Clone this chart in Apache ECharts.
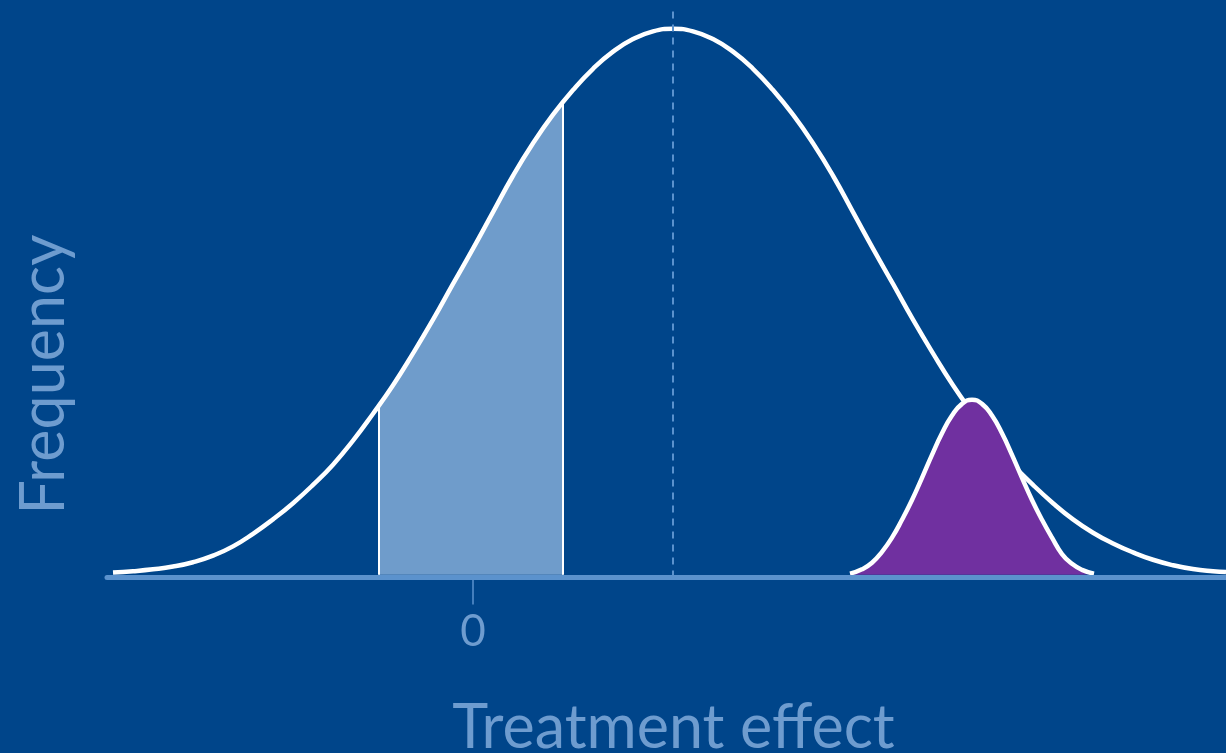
<!DOCTYPE html>
<html>
<head>
<meta charset="utf-8">
<script src="https://cdn.jsdelivr.net/npm/echarts@6/dist/echarts.min.js"></script>
<style>
  html, body { margin: 0; padding: 0; background: #00458a; overflow: hidden; }
  #chart { width: 1226px; height: 753px; }
</style>
</head>
<body>
<div id="chart"></div>
<script>
// Large distribution (treatment effect, frequency relative to its peak)
const bigX = [-3.6,-3.4,-3.2,-3.0,-2.8,-2.6,-2.4,-2.2,-2.0,-1.8,-1.6,-1.4,-1.2,-1.0,-0.8,-0.6,-0.4,-0.2,0.0,0.2,0.4,0.6,0.8,1.0,1.2,1.4,1.6,1.8,2.0,2.2,2.4,2.6,2.8,3.0,3.2,3.4,3.6,3.8,4.0,4.2,4.4,4.6,4.8,5.0,5.2,5.4,5.6,5.8,6.0,6.2,6.4,6.6,6.8,7.0,7.2,7.4,7.53];
const bigY = [0.004,0.0065,0.010,0.015,0.023,0.035,0.052,0.075,0.1015,0.1311,0.1646,0.2017,0.2457,0.2950,0.3472,0.4055,0.4671,0.5326,0.5973,0.6642,0.7308,0.7902,0.8426,0.8878,0.9267,0.9581,0.9811,0.9953,1.0,0.9953,0.9811,0.9581,0.9267,0.8878,0.8426,0.7902,0.7308,0.6642,0.5973,0.5326,0.4671,0.4055,0.3472,0.2950,0.2457,0.2017,0.1646,0.1311,0.1015,0.0770,0.0573,0.0410,0.0275,0.0175,0.0105,0.0065,0.005];

// Shaded interval under the large curve
const shadeX = [-0.94,-0.94,-0.8,-0.6,-0.4,-0.2,0.0,0.2,0.4,0.6,0.8,0.9,0.9];
const shadeY = [0,0.3107,0.3472,0.4055,0.4671,0.5326,0.5973,0.6642,0.7308,0.7902,0.8426,0.865,0];

// Small (purple) distribution
const smallX = [3.77,3.89,3.99,4.09,4.19,4.29,4.39,4.49,4.59,4.69,4.79,4.89,4.99,5.09,5.19,5.29,5.39,5.49,5.59,5.69,5.79,5.89,5.99,6.09,6.21];
const smallY = [0.002,0.010,0.022,0.042,0.068,0.1007,0.1369,0.1775,0.2196,0.2591,0.2916,0.3130,0.3205,0.3130,0.2916,0.2591,0.2196,0.1775,0.1369,0.1007,0.068,0.038,0.020,0.009,0.002];

const meanLine = 2.0;
const tickValues = [0];
const xAxisName = 'Treatment effect';
const yAxisName = 'Frequency';

const zip = (xs, ys) => xs.map((x, i) => [x, ys[i]]);

const chart = echarts.init(document.getElementById('chart'), null, { renderer: 'canvas' });
const textColor = '#6e9ccf';
const axisColor = '#5b92cd';
const FONT = 'Lato, "Open Sans", sans-serif';

chart.setOption({
  backgroundColor: '#00458a',
  animation: false,
  grid: { left: 107, right: 0, top: 9.66, bottom: 175.5, containLabel: false, outerBoundsMode: 'none' },
  xAxis: {
    type: 'value', min: -3.66, max: 7.53, z: 10,
    axisLine: { show: true, onZero: false, lineStyle: { color: axisColor, width: 5 } },
    axisTick: { show: true, customValues: tickValues, length: 27, lineStyle: { color: axisColor, width: 1.5 } },
    axisLabel: { show: true, customValues: tickValues, color: textColor, fontSize: 44, fontFamily: FONT, margin: 32 },
    splitLine: { show: false },
    name: xAxisName, nameLocation: 'middle', nameGap: 120,
    nameTextStyle: { color: textColor, fontSize: 61, fontFamily: FONT, padding: [0, 0, 0, 14] }
  },
  yAxis: {
    type: 'value', min: -0.005, max: 1.035, show: false
  },
  graphic: [{
    type: 'text', x: 44, y: 374.5, rotation: Math.PI / 2,
    style: { text: yAxisName, fill: textColor, font: '61px ' + FONT, textAlign: 'center', textVerticalAlign: 'middle' }
  }],
  series: [
    {
      type: 'line', data: zip(shadeX, shadeY), smooth: false, symbol: 'none', z: 1,
      lineStyle: { color: '#ffffff', width: 2 },
      areaStyle: { color: '#6f9ccb', opacity: 1 },
      markLine: {
        silent: true, symbol: 'none', label: { show: false },
        lineStyle: { color: axisColor, width: 2, type: [7, 6] },
        data: [{ xAxis: meanLine }]
      }
    },
    {
      type: 'line', data: zip(bigX, bigY), smooth: true, symbol: 'none', z: 2,
      lineStyle: { color: '#ffffff', width: 4.5 }
    },
    {
      type: 'line', data: zip(smallX, smallY), smooth: true, symbol: 'none', z: 3,
      lineStyle: { color: '#ffffff', width: 4.5 },
      areaStyle: { color: '#7030a0', opacity: 1 }
    }
  ]
});
</script>
</body>
</html>
